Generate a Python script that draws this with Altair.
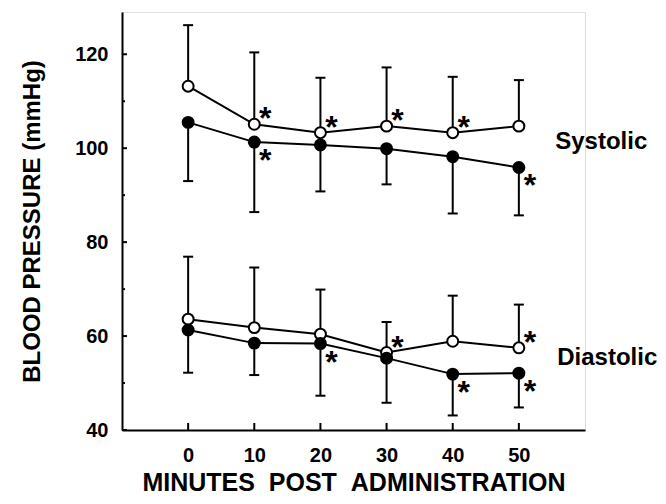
import altair as alt
import pandas as pd

minutes = [0, 10, 20, 30, 40, 50]

sys_open = [113.2, 105.1, 103.3, 104.7, 103.3, 104.7]
sys_open_upper = [126.2, 120.4, 115.0, 117.2, 115.2, 114.5]
sys_filled = [105.5, 101.3, 100.7, 99.9, 98.2, 95.9]
sys_filled_lower = [93.0, 86.4, 90.8, 92.3, 86.1, 85.7]

dia_open = [63.6, 61.8, 60.4, 56.5, 58.9, 57.5]
dia_open_upper = [76.9, 74.6, 69.9, 63.0, 68.6, 66.7]
dia_filled = [61.3, 58.5, 58.4, 55.3, 51.9, 52.1]
dia_filled_lower = [52.2, 51.7, 47.3, 45.8, 43.1, 44.8]

# significance stars (minutes) per group
stars_sys_open = [10, 20, 30, 40]
stars_sys_filled = [10, 50]
stars_dia_open = [30, 50]
stars_dia_filled = [20, 40, 50]

x_ticks = [0, 10, 20, 30, 40, 50]
y_major = [40, 60, 80, 100, 120]
y_minor = [50, 70, 90, 110]

labels = ["Systolic", "Diastolic"]
label_x = [55.5, 55.8]
label_y = [101.3, 55.3]

FONT = "Liberation Sans"

rows = []
groups = [
    ("sys_open", "open", sys_open, sys_open_upper, stars_sys_open, "up"),
    ("sys_filled", "filled", sys_filled, sys_filled_lower, stars_sys_filled, "down"),
    ("dia_open", "open", dia_open, dia_open_upper, stars_dia_open, "up"),
    ("dia_filled", "filled", dia_filled, dia_filled_lower, stars_dia_filled, "down"),
]
for g, t, vals, errs, stars, d in groups:
    for m, v, e in zip(minutes, vals, errs):
        rows.append({"group": g, "type": t, "minute": m, "value": v, "err": e,
                     "star": m in stars, "dir": d})
df = pd.DataFrame(rows)

xscale = alt.Scale(domain=[-10, 60], nice=False, zero=False)
yscale = alt.Scale(domain=[40, 129], nice=False, zero=False)

axis_common = dict(
    labelFont=FONT, labelFontSize=20, labelFontWeight="bold", labelColor="black",
    titleFont=FONT, titleFontWeight="bold", titleColor="black",
    domainColor="black", domainWidth=2, ticks=False, grid=False,
)
xaxis = alt.Axis(values=x_ticks, title="MINUTES\u00a0\u00a0POST\u00a0\u00a0ADMINISTRATION",
                 labelPadding=15, titlePadding=5, titleFontSize=25, **axis_common)
yaxis = alt.Axis(values=y_major, title="BLOOD PRESSURE (mmHg)",
                 labelPadding=14, titlePadding=30, titleFontSize=24, **axis_common)


def XF(f):
    return alt.X(f, scale=xscale, axis=xaxis)


def YF(f):
    return alt.Y(f, scale=yscale, axis=yaxis)


base = alt.Chart(df)

lines = base.mark_line(color="black", strokeWidth=2).encode(
    x=XF("minute:Q"), y=YF("value:Q"), detail="group:N",
)

err_rule = base.mark_rule(color="black", strokeWidth=2).encode(
    x=XF("minute:Q"), y=YF("value:Q"), y2="err:Q"
)
err_cap = base.mark_rule(color="black", strokeWidth=2, xOffset=-5, x2Offset=5).encode(
    x=XF("minute:Q"), x2="minute:Q", y=YF("err:Q")
)

points = base.mark_point(shape="circle", filled=True, stroke="black",
                         strokeWidth=2, size=120, opacity=1).encode(
    x=XF("minute:Q"), y=YF("value:Q"),
    fill=alt.Fill("type:N", scale=alt.Scale(domain=["open", "filled"],
                                             range=["white", "black"]), legend=None),
)

stars_up = base.transform_filter("datum.star && datum.dir == 'up'").mark_text(
    text="*", font=FONT, fontSize=32, fontWeight="bold", color="black",
    dx=11, dy=-5, baseline="middle", align="center").encode(x=XF("minute:Q"), y=YF("value:Q"))
stars_down = base.transform_filter("datum.star && datum.dir == 'down'").mark_text(
    text="*", font=FONT, fontSize=32, fontWeight="bold", color="black",
    dx=11, dy=19, baseline="middle", align="center").encode(x=XF("minute:Q"), y=YF("value:Q"))

ytick_major_df = pd.DataFrame({"v": y_major})
ytick_minor_df = pd.DataFrame({"v": y_minor})
xtick_df = pd.DataFrame({"m": x_ticks})

ytm = alt.Chart(ytick_major_df).mark_rule(color="black", strokeWidth=2, x2Offset=5).encode(
    x=alt.XDatum(-10, scale=xscale, axis=xaxis), x2=alt.datum(-10),
    y=YF("v:Q"))
ytn = alt.Chart(ytick_minor_df).mark_rule(color="black", strokeWidth=2, x2Offset=3).encode(
    x=alt.XDatum(-10, scale=xscale, axis=xaxis), x2=alt.datum(-10),
    y=YF("v:Q"))
xt = alt.Chart(xtick_df).mark_rule(color="black", strokeWidth=2, y2Offset=-7).encode(
    x=XF("m:Q"),
    y=alt.YDatum(40, scale=yscale, axis=yaxis), y2=alt.datum(40))

lab_df = pd.DataFrame({"label": labels, "x": label_x, "y": label_y})
labs = alt.Chart(lab_df).mark_text(font=FONT, fontSize=24, fontWeight="bold",
                                   color="black", align="left", baseline="middle").encode(
    x=XF("x:Q"), y=YF("y:Q"), text="label:N")

chart = alt.layer(lines, err_rule, err_cap, points, stars_up, stars_down,
                  ytm, ytn, xt, labs).properties(
    width=463, height=418,
    autosize=alt.AutoSizeParams(type="none"),
    padding={"left": 114, "top": 4, "right": 73, "bottom": 66},
).configure_view(stroke="transparent").configure(background="white")

chart.save("out.html", embed_options={"renderer": "svg", "actions": False})
